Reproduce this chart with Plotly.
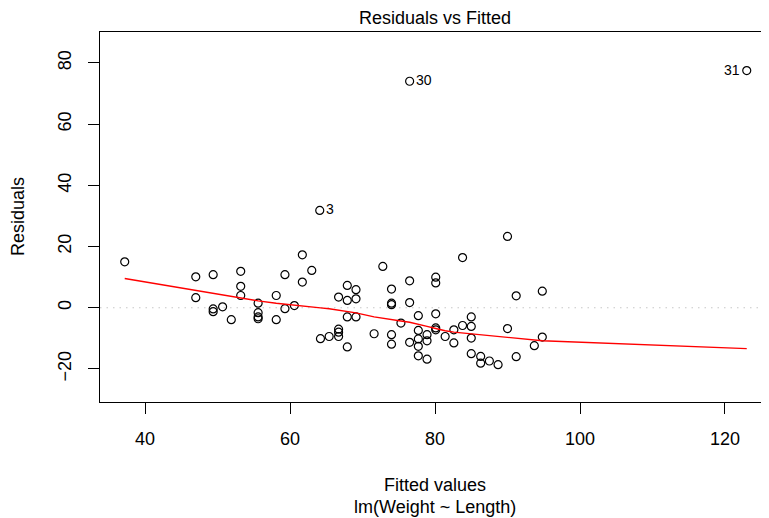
import numpy as np
import plotly.graph_objects as go

# ---- data ----
fitted = [37.2, 47.0, 47.0, 49.4, 49.4, 49.4, 50.7, 51.9, 53.2, 53.2, 53.2,
          55.6, 55.6, 55.6, 55.6, 58.1, 58.1, 59.3, 59.3, 60.6, 61.7, 61.7,
          63.0, 64.1, 64.2, 65.4, 66.7, 66.7, 66.7, 66.7, 67.9, 67.9, 67.9,
          67.9, 69.1, 69.1, 69.1, 71.6, 72.8, 74.0, 74.0, 74.0, 74.0, 74.0,
          75.3, 76.5, 76.5, 76.5, 76.5, 77.7, 77.7, 77.7, 77.7, 77.7, 78.9,
          78.9, 78.9, 80.1, 80.1, 80.1, 80.1, 80.1, 81.4, 82.6, 82.6, 83.8,
          83.8, 85.0, 85.0, 85.0, 85.0, 86.3, 86.3, 87.5, 88.7, 90.0, 90.0,
          91.2, 91.2, 93.7, 94.8, 94.8, 123.0]
residuals = [15.0, 10.1, 3.3, 10.8, -0.4, -1.3, 0.3, -3.9, 11.9, 7.0, 4.0,
             1.5, -1.6, -3.0, -3.6, 4.0, -3.9, 10.8, -0.3, 0.7, 17.3, 8.4,
             12.2, 31.8, -10.1, -9.4, 3.5, -7.0, -8.0, -9.4, 7.3, 2.4, -3.0,
             -12.8, 5.9, 2.9, -3.0, -8.5, 13.5, 6.1, 1.5, 1.0, -8.8, -11.9,
             -5.0, 74.0, 8.8, 1.7, -11.3, -2.6, -7.4, -10.2, -12.6, -15.7, -8.8,
             -10.8, -16.8, 10.0, 8.1, -2.0, -6.6, -7.2, -9.4, -7.2, -11.5, 16.4,
             -5.8, -3.0, -6.1, -9.9, -15.0, -15.9, -18.1, -17.4, -18.6, 23.3, -6.8,
             3.9, -16.0, -12.4, 5.4, -9.6, 77.5]

label_text = ["3", "30", "31"]
label_fitted = [64.1, 76.5, 123.0]
label_resid = [31.8, 74.0, 77.5]
label_side = ["right", "right", "left"]

x_ticks = [40, 60, 80, 100, 120]
y_ticks = [-20, 0, 20, 40, 60, 80]

title_text = "Residuals vs Fitted"
xlab = "Fitted values"
sublab = "lm(Weight ~ Length)"
ylab = "Residuals"


# ---- R-style lowess (as used by panel.smooth) ----
def lowess(x, y, f=2/3, it=3):
    x = np.asarray(x, float)
    y = np.asarray(y, float)
    o = np.argsort(x, kind="stable")
    x, y = x[o], y[o]
    n = len(x)
    ns = max(min(int(f * n + 1e-7), n), 2)
    rng = x[-1] - x[0]
    rw = np.ones(n)
    ys = np.empty(n)
    for iteration in range(it + 1):
        for i in range(n):
            d = np.abs(x - x[i])
            h = np.sort(d)[ns - 1]
            w = np.zeros(n)
            h9, h1 = 0.999 * h, 0.001 * h
            for j in range(n):
                r = d[j]
                if r <= h9:
                    w[j] = 1.0 if r <= h1 else (1 - (r / h) ** 3) ** 3
                    w[j] *= rw[j]
            a = w.sum()
            if a <= 0:
                ys[i] = y[i]
                continue
            w = w / a
            if h > 0:
                b = (w * x).sum()
                c = (w * (x - b) ** 2).sum()
                if np.sqrt(c) > 0.001 * rng:
                    bb = (x[i] - b) / c
                    w = w * (bb * (x - b) + 1)
            ys[i] = (w * y).sum()
        if iteration == it:
            break
        res = y - ys
        cmad = 6 * np.median(np.abs(res))
        if cmad < 1e-7 * np.mean(np.abs(y)):
            break
        r = np.abs(res)
        rw = np.where(r <= 0.001 * cmad, 1.0,
                      np.where(r <= 0.999 * cmad, (1 - (r / cmad) ** 2) ** 2, 0.0))
    return x, ys


sx, sy = lowess(fitted, residuals)

FONT = "Liberation Sans, Arial, Helvetica, sans-serif"

fig = go.Figure()
fig.add_trace(go.Scatter(
    x=fitted, y=residuals, mode="markers",
    marker=dict(symbol="circle-open", size=8, color="black", line=dict(width=1.2)),
    showlegend=False, hoverinfo="x+y", cliponaxis=False))
fig.add_trace(go.Scatter(
    x=sx, y=sy, mode="lines", line=dict(color="red", width=1.4),
    showlegend=False, hoverinfo="skip"))

# zero reference line
fig.add_shape(type="line", xref="paper", x0=0, x1=1, yref="y", y0=0, y1=0,
              line=dict(color="#c8c8c8", width=1.2, dash="1.5px,5px"), layer="below")

anns = []
for t, xv, yv, side in zip(label_text, label_fitted, label_resid, label_side):
    anns.append(dict(x=xv, y=yv, xref="x", yref="y", text=t, showarrow=False,
                     xanchor="left" if side == "right" else "right",
                     xshift=4 if side == "right" else -5, yshift=1,
                     font=dict(size=14, color="black", family=FONT)))
anns.append(dict(x=0.5, y=1, xref="paper", yref="paper", text=title_text,
                 showarrow=False, yanchor="middle", yshift=14.5,
                 font=dict(size=18, color="black", family=FONT)))
anns.append(dict(x=0.5, y=0, xref="paper", yref="paper", text=xlab,
                 showarrow=False, yanchor="middle", yshift=-83,
                 font=dict(size=18, color="black", family=FONT)))
anns.append(dict(x=0.5, y=0, xref="paper", yref="paper", text=sublab,
                 showarrow=False, yanchor="middle", yshift=-105,
                 font=dict(size=18, color="black", family=FONT)))
anns.append(dict(x=0, y=0.5, xref="paper", yref="paper", text=ylab,
                 showarrow=False, xanchor="center", textangle=-90, xshift=-82,
                 font=dict(size=18, color="black", family=FONT)))

# the page body adds an 8px offset, so the figure is 8px smaller on each axis
fig.update_layout(
    width=761, height=510,
    margin=dict(l=92, r=0, t=24, b=116, pad=0, autoexpand=False),
    paper_bgcolor="white", plot_bgcolor="white",
    font=dict(family=FONT, size=18, color="black"),
    annotations=anns,
    xaxis=dict(range=[33.79, 126.07], tickvals=x_ticks, ticks="outside", ticklen=11,
               tickwidth=1.2, tickcolor="black", showline=True, linecolor="black",
               linewidth=1.2, mirror=True, showgrid=False, zeroline=False,
               automargin=False,
               tickfont=dict(size=18, family=FONT), ticklabelstandoff=9),
    yaxis=dict(range=[-30.8, 90.1], tickvals=y_ticks, ticks="outside", ticklen=11,
               tickwidth=1.2, tickcolor="black", showline=True, linecolor="black",
               linewidth=1.2, mirror=False, showgrid=False, zeroline=False,
               automargin=False,
               tickangle=-90, tickfont=dict(size=18, family=FONT), ticklabelstandoff=10),
)

fig.write_html("out.html")
